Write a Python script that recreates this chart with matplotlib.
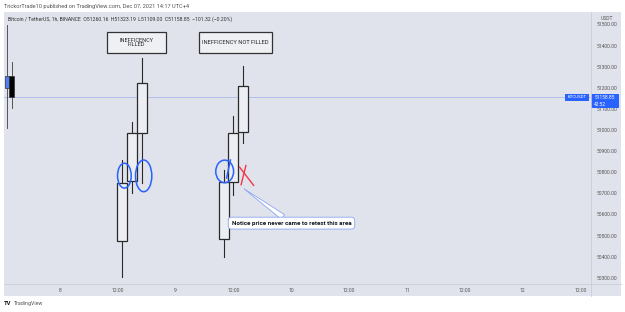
import matplotlib
matplotlib.use('Agg')
import matplotlib.pyplot as plt
from matplotlib.patches import Rectangle, Ellipse
from matplotlib.transforms import blended_transform_factory

plt.rcParams['font.family'] = ['Roboto', 'DejaVu Sans']

# echte 1h-Kerzen (Stunden relativ zu 8. Dez 00:00)
live_t = [-11, -10]
live_open = [51200.0, 51260.16]
live_high = [51500.0, 51323.19]
live_low = [51012.0, 51109.00]
live_close = [51260.0, 51158.85]
last_price = 51158.85

# im Chart gezeichnete Kerzen
draw_t = [13, 15, 17, 34, 36, 38]
draw_open = [50478, 50762, 50987, 50484, 50757, 50994]
draw_close = [50751, 50987, 51224, 50757, 50990, 51211]
draw_high = [50860, 51042, 51342, 50813, 51069, 51306]
draw_low = [50307, 50705, 50750, 50402, 50694, 50942]

price_ticks = [50300, 50400, 50500, 50600, 50700, 50800, 50900,
               51000, 51100, 51200, 51300, 51400, 51500]
time_ticks = [0, 12, 24, 36, 48, 60, 72, 84, 96, 108]
time_labels = ['8', '12:00', '9', '12:00', '10', '12:00', '11', '12:00', '12', '12:00']

W, H = 625, 312
bg = '#e0e3eb'
sep = '#c9cdd7'
blue = '#2962ff'

fig = plt.figure(figsize=(W / 100, H / 100), dpi=100)
fig.patch.set_facecolor('white')

def fx(px):
    return px / W

def fy(py):
    return 1 - py / H

# Hintergrund des Charts
fig.patches.append(Rectangle((fx(4), fy(296)), fx(621) - fx(4), fy(12) - fy(296),
                             transform=fig.transFigure, fc=bg, ec='none', zorder=-10))

ax = fig.add_axes([fx(4), fy(283.5), fx(591) - fx(4), fy(12) - fy(283.5)])
ax.set_facecolor('none')
ax.set_xlim(-11.56, 110.16)
ax.set_ylim(50274.9, 51561.6)
ax.axis('off')

# Preislinie
ax.axhline(last_price, color='#a9b9ec', lw=0.6, zorder=1)

# echte Kerzen
cols = ['#4d7ff5', '#000000']
for t, o, h, l, c, col in zip(live_t, live_open, live_high, live_low, live_close, cols):
    ax.plot([t, t], [l, h], color='#555555', lw=0.7, zorder=2)
    ax.add_patch(Rectangle((t - 0.42, min(o, c)), 0.84, abs(c - o),
                           fc=col, ec='#333333', lw=0.5, zorder=3))

# gezeichnete Kerzen
for t, o, h, l, c in zip(draw_t, draw_open, draw_high, draw_low, draw_close):
    ax.plot([t, t], [l, h], color='#2a2a2a', lw=0.8, zorder=4)
for t, o, h, l, c in zip(draw_t, draw_open, draw_high, draw_low, draw_close):
    ax.add_patch(Rectangle((t - 1.03, min(o, c)), 2.06, abs(c - o),
                           fc='#eceef3', ec='#2a2a2a', lw=0.9, zorder=5))

# Kreise (Handzeichnung)
for cx, cy, w, h in [(13.4, 50786, 2.84, 118), (17.4, 50785, 3.38, 150), (34.2, 50806, 3.7, 107)]:
    ax.add_patch(Ellipse((cx, cy), w, h, fc='none', ec=blue, lw=1.1, zorder=7))
ax.plot([34.6, 35.4], [50775, 50860], color=blue, lw=1.1, zorder=7)

# rotes X
ax.plot([37.3, 40.2], [50826, 50740], color='#f23645', lw=1.0, zorder=7)
ax.plot([38.6, 37.6], [50834, 50743], color='#f23645', lw=1.0, zorder=7)

# Textboxen
ax.add_patch(Rectangle((9.84, 51366), 12.23, 102, fc='#eef0f4', ec='#333333', lw=0.9, zorder=8))
ax.text(15.96, 51417, 'INEFFICENCY\nFILLED', ha='center', va='center', fontsize=4.0,
        color='#222222', linespacing=0.95, zorder=9)
ax.add_patch(Rectangle((28.9, 51366), 15.2, 102, fc='#eef0f4', ec='#333333', lw=0.9, zorder=8))
ax.text(36.5, 51417, 'INEFFICENCY NOT FILLED', ha='center', va='center', fontsize=4.1,
        color='#222222', zorder=9)

# Callout
ax.annotate('Notice price never came to retest this area', xy=(38.2, 50724),
            xytext=(48.05, 50561), ha='center', va='center', fontsize=4.5,
            weight='bold', color='#131722', zorder=9,
            bbox=dict(boxstyle='round,pad=0.55', fc='white', ec='#8ba6f2', lw=0.6),
            arrowprops=dict(arrowstyle='wedge,tail_width=0.9', fc='white', ec='#8ba6f2',
                            lw=0.6, shrinkA=0, shrinkB=0))

# Preisachse
pax = fig.add_axes([fx(591), fy(283.5), fx(621) - fx(591), fy(12) - fy(283.5)])
pax.set_facecolor('none')
pax.set_xlim(0, 1)
pax.set_ylim(ax.get_ylim())
pax.axis('off')
for p in price_ticks:
    pax.text(0.52, p, f'{p:.2f}', ha='center', va='center', fontsize=3.6, color='#555555')
pax.text(0.52, 51530, 'USDT', ha='center', va='center', fontsize=3.6, color='#555555')
pax.add_patch(Rectangle((0.0, last_price - 50), 0.92, 63, fc=blue, ec='none', zorder=5))
pax.text(0.46, last_price - 2, f'{last_price:.2f}', ha='center', va='center', fontsize=3.5,
         color='white', zorder=6)
pax.text(0.30, last_price - 34, '42:52', ha='center', va='center', fontsize=3.5,
         color='white', zorder=6)

# BTCUSDT Label
bt = blended_transform_factory(fig.transFigure, ax.transData)
fig.patches.append(Rectangle((fx(565), last_price - 17), fx(589) - fx(565), 33,
                             transform=bt, fc=blue, ec='none', zorder=5))
fig.text(fx(577), last_price, 'BTCUSDT', transform=bt, ha='center', va='center',
         fontsize=3.2, color='white', zorder=6)

# Zeitachse
tax = fig.add_axes([fx(4), fy(296), fx(591) - fx(4), fy(283.5) - fy(296)])
tax.set_facecolor('none')
tax.set_xlim(ax.get_xlim())
tax.set_ylim(0, 1)
tax.axis('off')
for t, lab in zip(time_ticks, time_labels):
    tax.text(t, 0.45, lab, ha='center', va='center', fontsize=3.6, color='#555555')

# Trennlinien
fig.add_artist(plt.Line2D([fx(591), fx(591)], [fy(12), fy(296)], color=sep, lw=0.6))
fig.add_artist(plt.Line2D([fx(4), fx(621)], [fy(283.5), fy(283.5)], color=sep, lw=0.6))

# Kopfzeilen
fig.text(fx(4), fy(6.3), 'TrickorTrade10 published on TradingView.com, Dec 07, 2021 14:17 UTC+4',
         ha='left', va='center', fontsize=4.1, color='#555555')
fig.text(fx(8), fy(19), 'Bitcoin / TetherUS, 1h, BINANCE  O51260.16  H51323.19  L51109.00  '
         'C51158.85  \u2212101.32 (\u22120.20%)', ha='left', va='center', fontsize=3.7,
         color='#333333')
fig.text(fx(4), fy(303.5), 'TV', ha='left', va='center', fontsize=4.2, weight='bold',
         color='#131722')
fig.text(fx(14), fy(303.5), 'TradingView', ha='left', va='center', fontsize=3.8,
         color='#555555')

fig.savefig('out.png', dpi=100, facecolor='white')
